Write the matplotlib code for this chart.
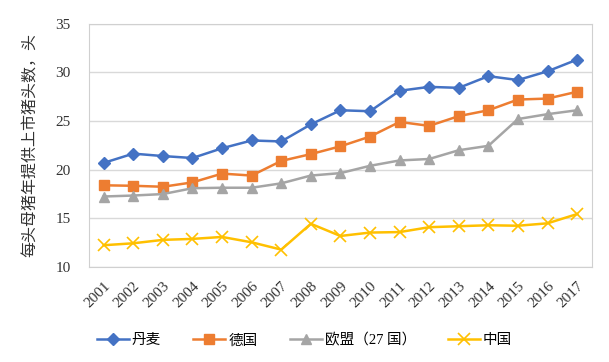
import matplotlib.pyplot as plt

plt.rcParams['font.family'] = ['Liberation Serif', 'Noto Sans CJK SC']

years = [str(y) for y in range(2001, 2018)]
denmark = [20.7, 21.65, 21.4, 21.2, 22.2, 23.0, 22.9, 24.65, 26.1, 26.0,
           28.1, 28.5, 28.4, 29.6, 29.2, 30.1, 31.3]
germany = [18.4, 18.35, 18.25, 18.7, 19.6, 19.4, 20.9, 21.6, 22.4, 23.4,
           24.9, 24.5, 25.5, 26.1, 27.2, 27.3, 28.0]
eu27 = [17.25, 17.35, 17.5, 18.1, 18.15, 18.15, 18.6, 19.4, 19.65, 20.4,
        20.95, 21.1, 22.0, 22.45, 25.2, 25.7, 26.1]
china = [12.25, 12.45, 12.8, 12.9, 13.1, 12.55, 11.8, 14.45, 13.2, 13.55,
         13.6, 14.1, 14.2, 14.3, 14.25, 14.5, 15.45]

fig = plt.figure(figsize=(6.09, 3.62), dpi=100)
ax = fig.add_axes([0.146, 0.262, 0.826, 0.673])

x = range(len(years))
ax.plot(x, denmark, color='#4472C4', marker='D', markersize=6, lw=1.8, label='丹麦')
ax.plot(x, germany, color='#ED7D31', marker='s', markersize=7, lw=1.8, label='德国')
ax.plot(x, eu27, color='#A5A5A5', marker='^', markersize=7, lw=1.8, label='欧盟（27 国）')
ax.plot(x, china, color='#FFC000', marker='x', markersize=8, mew=1.2, lw=1.8, label='中国')

ax.set_xlim(-0.5, len(years) - 0.5)
ax.set_ylim(10, 35)
ax.set_yticks([10, 15, 20, 25, 30, 35])
ax.set_xticks(list(x))
ax.set_xticklabels(years, rotation=45, ha='right', rotation_mode='anchor')
ax.tick_params(length=0, labelsize=11, colors='#333333')
ax.tick_params(axis='y', pad=13)
ax.tick_params(axis='x', pad=9)
ax.grid(axis='y', color='#D9D9D9', lw=1)
ax.set_axisbelow(True)
for s in ax.spines.values():
    s.set_color('#D0D0D0')

ax.set_ylabel('每头母猪年提供上市猪头数，头', fontsize=11.5, color='#333333', labelpad=12)

fig.legend(loc='center', bbox_to_anchor=(0.5, 0.06), ncol=4, frameon=False,
           fontsize=10.5, handlelength=2.2, columnspacing=2.2, handletextpad=0.2)

fig.savefig('out.png', dpi=100)
